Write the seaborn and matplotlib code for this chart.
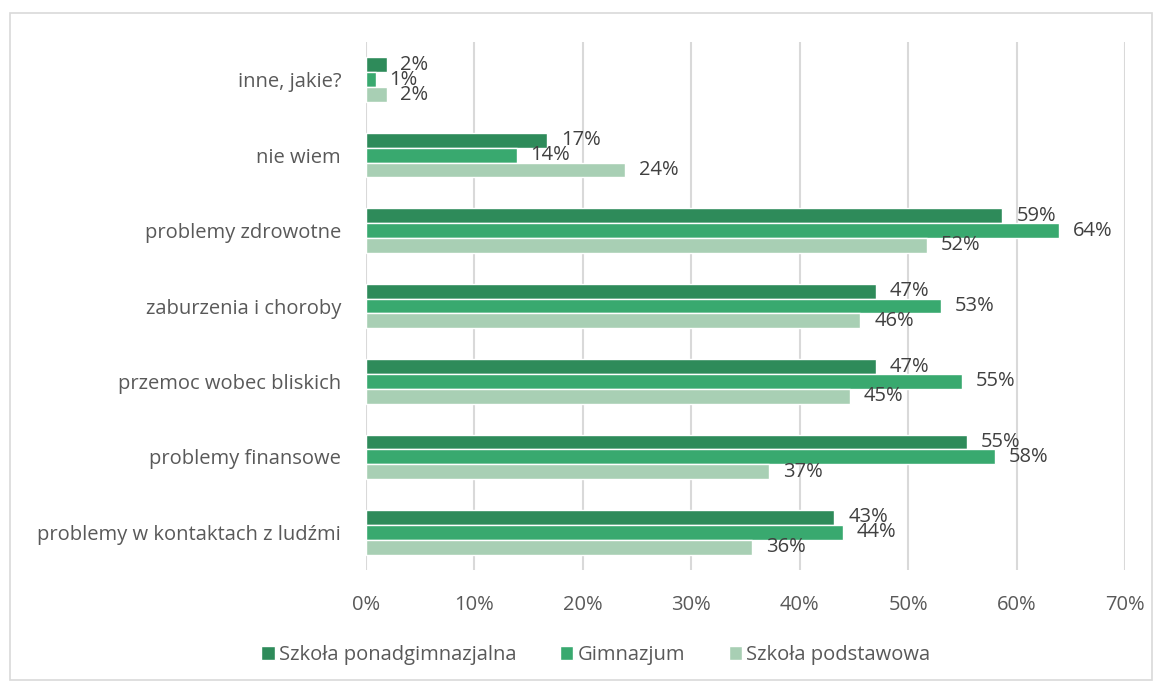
import pandas as pd
import matplotlib.pyplot as plt
import seaborn as sns
from matplotlib.patches import Rectangle
from matplotlib.ticker import PercentFormatter

# categories, top to bottom
categories = ["inne, jakie?", "nie wiem", "problemy zdrowotne", "zaburzenia i choroby",
              "przemoc wobec bliskich", "problemy finansowe", "problemy w kontaktach z ludźmi"]
series = ["Szkoła ponadgimnazjalna", "Gimnazjum", "Szkoła podstawowa"]

ponadgimnazjalna = [0.019, 0.167, 0.587, 0.470, 0.470, 0.554, 0.432]
gimnazjum = [0.009, 0.139, 0.639, 0.530, 0.550, 0.580, 0.440]
podstawowa = [0.019, 0.239, 0.517, 0.456, 0.446, 0.372, 0.356]

colors = ["#2E8B5A", "#39A96F", "#A8CFB4"]

df = pd.DataFrame({
    "kategoria": categories * 3,
    "szkola": [s for s in series for _ in categories],
    "udzial": ponadgimnazjalna + gimnazjum + podstawowa,
})

sns.set_style("white")
plt.rcParams['font.family'] = ['Open Sans', 'DejaVu Sans']

fig = plt.figure(figsize=(11.63, 6.87), dpi=100)
ax = fig.add_axes([366 / 1163, 1 - 570 / 687, (1125 - 366) / 1163, (570 - 42) / 687])

sns.barplot(data=df, y="kategoria", x="udzial", hue="szkola", hue_order=series,
            order=categories, palette=colors, width=0.59, orient="h",
            saturation=1, ax=ax, legend=True)

for cont in ax.containers:
    labels = [f"{v:.0%}" for v in cont.datavalues]
    ax.bar_label(cont, labels=labels, padding=10, fontsize=14.5, color="#404040")

ax.set_xlim(0, 0.70)
ax.set_xticks([i / 10 for i in range(8)])
ax.xaxis.set_major_formatter(PercentFormatter(1.0, decimals=0))
ax.grid(axis="x", color="#D9D9D9", linewidth=1.5)
ax.set_axisbelow(True)
for s in ax.spines.values():
    s.set_visible(False)
ax.set_xlabel("")
ax.set_ylabel("")
ax.tick_params(axis="x", length=0, pad=18, labelsize=14.5, labelcolor="#595959")
ax.tick_params(axis="y", length=0, pad=18, labelsize=14.5, labelcolor="#595959")

handles, lbls = ax.get_legend_handles_labels()
ax.legend_.remove()
fig.legend(handles, lbls, loc="center", bbox_to_anchor=(596 / 1163, 1 - 655 / 687), ncol=3,
           frameon=False, fontsize=14.5, handlelength=0.65, handleheight=0.65,
           handletextpad=0.2, columnspacing=2.2, labelcolor="#595959")

fig.patches.append(Rectangle((10 / 1163, 1 - 680 / 687), 1142 / 1163, 667 / 687,
                             transform=fig.transFigure, fill=False,
                             edgecolor="#D9D9D9", linewidth=1.2))

fig.savefig("out.png", dpi=100)
